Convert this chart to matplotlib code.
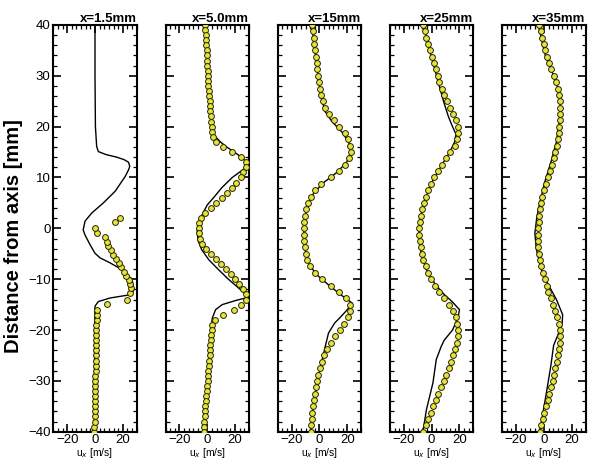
import numpy as np
import matplotlib
matplotlib.use("Agg")
import matplotlib.pyplot as plt
from matplotlib.ticker import MultipleLocator

plt.rcParams['font.family'] = ['Liberation Sans', 'DejaVu Sans']

titles = ["x=1.5mm", "x=5.0mm", "x=15mm", "x=25mm", "x=35mm"]

# ---- simulation (solid line) ----
line1_y = [40, 30, 20, 16.1, 15.1, 14.5, 14, 13.5, 13, 12.2, 11.5, 10.2, 7.3, 5, 3, 1.4, -0.3, -1.3, -3.2,
           -4.9, -5.8, -6.8, -8.1, -10, -12.1, -13, -13.7, -14.4, -15.3, -20, -30, -40]
line1_x = [0, 0, 0.3, 1.2, 2.4, 8, 15.7, 21, 24.1, 25, 24.1, 21.7, 14.5, 6, -2.4, -7.2, -8.5, -7.2, -3.6,
           0, 3.6, 10.9, 19.3, 26.6, 27.8, 26.6, 10.9, 2.4, 0, -0.2, -0.4, -0.5]

line2_y = [40, 30, 25, 20, 19, 18, 17, 16, 15, 14, 13, 12.3, 11.5, 10, 8, 6, 4.6, 2.7, 1, -0.3, -2.3, -4.2,
           -6.2, -8.2, -10.1, -11.8, -13.1, -13.7, -14.2, -15, -16, -17.7, -19.6, -25, -30, -35, -40]
line2_x = [-1.3, 0.5, 2, 3.3, 3.8, 6, 9.5, 14, 19.5, 24.5, 28.5, 29.5, 25.5, 18, 10.5, 4.5, 0, -3.6, -6, -7.2,
           -6.7, -4, 1.2, 8.4, 15.6, 22.8, 28.1, 27.6, 20.4, 10.8, 6, 3.6, 2.9, 1.5, 0.3, -0.8, -1.8]

line3_y = [40, 32, 26, 23, 21, 19, 17, 15, 13, 11, 9, 7, 5, 2, 0, -2, -5, -7, -9, -11, -13, -14.7, -16,
           -17.5, -18.6, -20.6, -23.2, -26, -30, -35, -40]
line3_x = [-5.5, -2, 1, 4, 9, 16, 21, 22.8, 19.5, 12.5, 3, -4, -8, -10.5, -11.3, -11.3, -9.8, -7.5, -2.5, 6,
           15, 23.5, 20, 15, 11, 6.5, 4.2, 1.8, -1.5, -4.5, -6.3]

line4_y = [40, 33, 28, 25, 22, 20, 18.5, 17, 15, 12.8, 9.5, 5.6, 1.7, -1, -5, -8, -11, -13, -14.5, -16,
           -17.5, -20, -22, -23.2, -25.8, -30.4, -35.7, -40]
line4_x = [-6, 0.5, 5.5, 8.5, 12, 15, 17.5, 16.5, 13, 8, 1, -5, -8.6, -9.2, -7.6, -4, 2.5, 9, 15, 20,
           19, 15, 9, 6.9, 3.3, 0.9, -3.8, -6.3]

line5_y = [40, 34, 30, 26, 22, 17, 13, 9, 5, 2, -1, -4, -8, -11, -14, -17, -19, -21, -23, -27, -32, -36, -40]
line5_x = [-4, 1, 7, 12, 11.5, 9, 5, 0.5, -3, -5.2, -6.5, -5.5, -2, 3, 9, 13.5, 13, 10, 7, 5, 2, -0.5, -3]

# ---- experiment (yellow circles) ----
exp1_y = [-40, -39, -38, -37, -36, -35, -34, -33, -32, -31, -30, -29, -28, -27, -26, -25, -24, -23, -22,
          -21, -20, -19, -18, -17, -16, -14.8, -14, -12.7, -11.7, -10.9, -10.1, -9.3, -8.5, -7.6, -6.8,
          -6.0, -5.2, -4.3, -3.4, -2.6, -1.7, -0.9, 0.1, 1.2, 2.0]
exp1_x = [-0.5, -0.4, -0.3, -0.3, -0.2, -0.1, 0, 0, 0.1, 0.2, 0.3, 0.3, 0.4, 0.5, 0.5, 0.6, 0.7, 0.7, 0.8,
          0.9, 0.9, 1.0, 1.1, 1.1, 1.2, 8.9, 23, 25.4, 25.8, 25.4, 24.1, 22.5, 20.5, 18.6, 16.9,
          15.2, 13.3, 11.4, 9.7, 8.5, 7.2, 1.2, 0, 14.5, 18]

# stations every 1 mm (x=5.0mm) and every 1.25 mm (further downstream)
exp2_y = np.arange(40, -40.5, -1.0)
exp2_x = [-1.5, -1.3, -1.1, -0.9, -0.7, -0.5, -0.3, -0.1, 0.1, 0.3, 0.5, 0.7, 0.9, 1.2, 1.5, 1.8, 2.0,
          2.3, 2.6, 2.9, 3.2, 3.5, 4.5, 6.0, 11.3, 18.0, 24.0, 27.6, 28.0, 25.9, 24.0, 20.9, 17.5, 13.9,
          10.4, 6.0, 2.4, -1.7, -4.8, -5.8, -6.0, -6.0, -5.5, -3.6, -0.7, 2.4, 6.0, 9.6, 13.2, 16.8, 19.9,
          22.8, 25.7, 27.6, 28.0, 24.0, 19.2, 11.0, 5.5, 3.6, 3.2, 2.9, 2.6, 2.3, 2.0, 1.7, 1.4, 1.1, 0.8,
          0.5, 0.2, -0.1, -0.4, -0.7, -1.0, -1.3, -1.6, -1.8, -2.0, -2.2, -2.4]

exp_y = np.arange(40, -40.5, -1.25)
exp3_x = [-5.3, -4.8, -4.2, -3.7, -3.2, -2.7, -2.1, -1.6, -1.0, -0.4, 0.3, 1.4, 2.4, 4.2, 6.6, 10.5, 14.4,
          18.2, 20.8, 22.2, 22.6, 21.6, 18.6, 13.8, 8.0, 1.2, -3.2, -6.4, -8.3, -9.5, -10.3, -10.8, -11.2,
          -11.2, -11.0, -10.4, -9.5, -8.6, -6.6, -3.0, 2.0, 8.0, 14.0, 19.3, 22.0, 22.2, 20.5, 18.0, 14.7,
          11.3, 8.0, 5.4, 3.6, 1.7, 0.4, -0.7, -1.5, -2.3, -3.1, -4.0, -4.6, -5.1, -5.6, -5.9, -6.2]
exp4_x = [-6.4, -5.1, -3.8, -2.5, -1.3, 0.1, 1.6, 2.9, 4.2, 5.6, 7.4, 9.2, 11.2, 13.4, 15.6, 17.6, 18.9,
          19.2, 18.4, 16.6, 13.5, 10.4, 7.6, 4.7, 1.8, -0.7, -2.7, -4.4, -5.8, -7.0, -8.0, -8.6, -9.0,
          -9.0, -8.6, -8.0, -7.2, -6.0, -4.4, -2.6, -0.4, 2.2, 5.2, 8.6, 12.4, 15.4, 17.2, 18.3, 18.8,
          18.8, 18.2, 17.0, 15.4, 13.9, 12.4, 10.6, 8.6, 6.7, 4.9, 3.0, 1.0, -0.8, -2.6, -4.3, -6.0]
exp5_x = [-3.5, -2.4, -1.2, -0.1, 1.1, 2.4, 3.8, 5.3, 7.0, 8.6, 9.9, 10.9, 11.5, 11.8, 11.8, 11.6, 11.2,
          10.7, 10.1, 9.3, 8.3, 7.0, 5.6, 4.2, 2.7, 1.4, 0.2, -1.2, -2.2, -2.9, -3.4, -3.8, -4.1,
          -4.2, -4.2, -4.0, -3.6, -3.0, -2.0, -0.8, 0.5, 1.9, 3.3, 4.9, 6.5, 8.1, 9.6, 10.8, 11.5,
          11.8, 11.7, 11.1, 10.2, 9.2, 8.2, 7.2, 6.2, 5.0, 3.9, 2.6, 1.4, 0.3, -0.8, -1.8, -2.7]

lines = [(line1_x, line1_y), (line2_x, line2_y), (line3_x, line3_y), (line4_x, line4_y), (line5_x, line5_y)]
exps = [(exp1_x, exp1_y), (exp2_x, exp2_y), (exp3_x, exp_y), (exp4_x, exp_y), (exp5_x, exp_y)]

fig = plt.figure(figsize=(5.96, 4.66), dpi=100)

left0, pitch, width = 0.0894, 0.1883, 0.140
bottom, height = 0.0736, 0.8728

for i in range(5):
    ax = fig.add_axes([left0 + i * pitch, bottom, width, height])
    lx, ly = lines[i]
    ex, ey = exps[i]
    ax.plot(lx, ly, color='black', lw=1.0, zorder=2)
    ax.plot(ex, ey, 'o', ms=4.2, mfc='#e4e43c', mec='#262600', mew=0.7, ls='none', zorder=3)

    ax.set_xlim(-30, 30)
    ax.set_ylim(-40, 40)
    ax.xaxis.set_major_locator(MultipleLocator(20))
    ax.xaxis.set_minor_locator(MultipleLocator(20 / 6))
    ax.yaxis.set_major_locator(MultipleLocator(10))
    ax.yaxis.set_minor_locator(MultipleLocator(2))
    ax.tick_params(which='both', direction='in', top=True, right=True, labelsize=9.5, pad=2)
    ax.tick_params(which='major', length=6, width=1.2)
    ax.tick_params(which='minor', length=3, width=0.9)
    for sp in ax.spines.values():
        sp.set_linewidth(1.5)
    if i > 0:
        ax.set_yticklabels([])
    ax.set_xlabel(r'u$_x$ [m/s]', fontsize=7.5, labelpad=0)
    ax.set_title(titles[i], loc='right', fontsize=9.5, fontweight='bold', pad=2)

fig.text(0.023, 0.494, 'Distance from axis [mm]', rotation=90, fontsize=14.5, fontweight='bold',
         ha='center', va='center')

fig.savefig('out.png', dpi=100)
